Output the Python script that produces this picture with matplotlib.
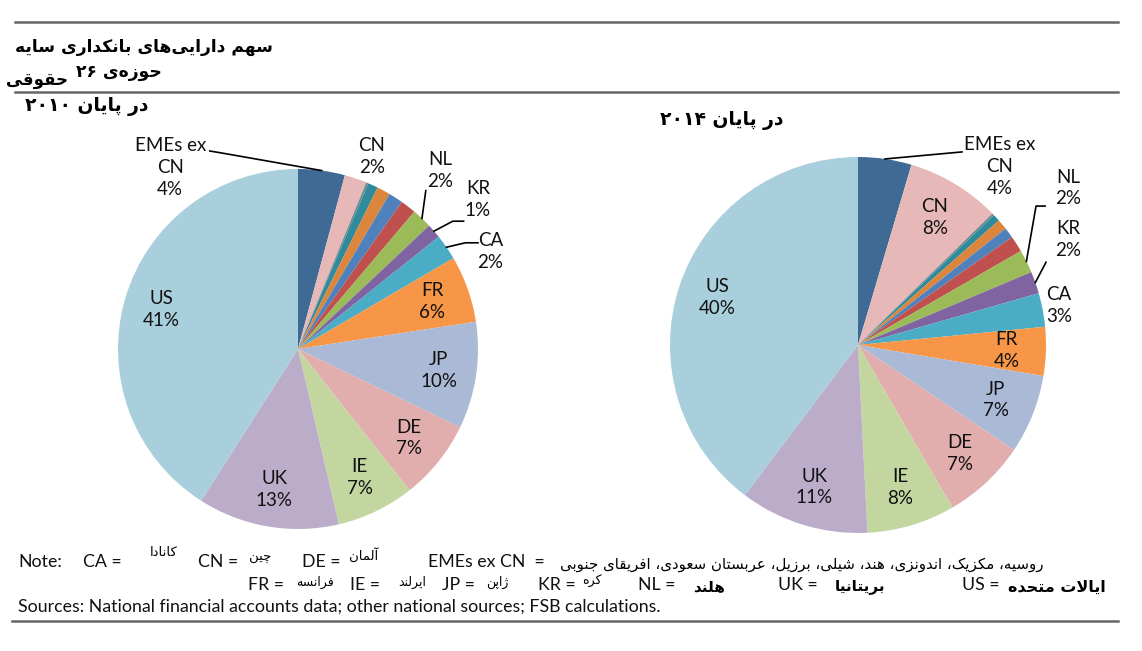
import re

import matplotlib
import matplotlib.pyplot as plt
import numpy as np
from matplotlib.lines import Line2D

matplotlib.use('Agg')

W, H = 1142, 651

# slice order, clockwise from 12 o'clock
labels = ['EMEs ex\nCN', 'CN', '', '', '', '', '', 'NL', 'KR', 'CA', 'FR', 'JP', 'DE', 'IE', 'UK', 'US']
shares_2010 = [4.2, 2.0, 0.2, 0.9, 1.2, 1.3, 1.4, 1.8, 1.3, 2.3, 6.0, 9.6, 7.2, 7.0, 12.7, 41.0]
shares_2014 = [4.6, 8.1, 0.2, 0.6, 0.9, 0.9, 1.4, 2.0, 1.9, 2.9, 4.2, 6.8, 7.2, 7.6, 11.1, 39.8]
pct_2010 = ['4%', '2%', '', '', '', '', '', '2%', '1%', '2%', '6%', '10%', '7%', '7%', '13%', '41%']
pct_2014 = ['4%', '8%', '', '', '', '', '', '2%', '2%', '3%', '4%', '7%', '7%', '8%', '11%', '40%']
colors = ['#3E6A95', '#E6B9B8', '#6E8C90', '#2F8A9C', '#DC853C', '#4F81BD', '#C0504D', '#9BBB59',
          '#8064A2', '#4BACC6', '#F79646', '#AAB9D5', '#E2AEAD', '#C3D69F', '#BBADC9', '#A8CFDB']

# Persian shaping (matplotlib does no Arabic shaping / bidi by itself)
FORMS = {
    'ا': '\uFE8D\uFE8E', 'آ': '\uFE81\uFE82', 'د': '\uFEA9\uFEAA', 'ذ': '\uFEAB\uFEAC',
    'ر': '\uFEAD\uFEAE', 'ز': '\uFEAF\uFEB0', 'ژ': '\uFB8A\uFB8B', 'و': '\uFEED\uFEEE',
    'ب': '\uFE8F\uFE90\uFE91\uFE92', 'پ': '\uFB56\uFB57\uFB58\uFB59',
    'ت': '\uFE95\uFE96\uFE97\uFE98', 'ج': '\uFE9D\uFE9E\uFE9F\uFEA0',
    'چ': '\uFB7A\uFB7B\uFB7C\uFB7D', 'ح': '\uFEA1\uFEA2\uFEA3\uFEA4',
    'س': '\uFEB1\uFEB2\uFEB3\uFEB4', 'ش': '\uFEB5\uFEB6\uFEB7\uFEB8',
    'ع': '\uFEC9\uFECA\uFECB\uFECC', 'ف': '\uFED1\uFED2\uFED3\uFED4',
    'ق': '\uFED5\uFED6\uFED7\uFED8', 'ک': '\uFB8E\uFB8F\uFB90\uFB91',
    'ل': '\uFEDD\uFEDE\uFEDF\uFEE0', 'م': '\uFEE1\uFEE2\uFEE3\uFEE4',
    'ن': '\uFEE5\uFEE6\uFEE7\uFEE8', 'ه': '\uFEE9\uFEEA\uFEEB\uFEEC',
    'ی': '\uFBFC\uFBFD\uFBFE\uFBFF',
}
LAM_ALEF = {'ا': '\uFEFB\uFEFC', 'آ': '\uFEF5\uFEF6'}


def fa(text):
    text = text.replace('\u064a', '\u06cc').replace('\u0643', '\u06a9')
    out = []
    i, n = 0, len(text)
    while i < n:
        c = text[i]
        if c not in FORMS:
            if c != '\u200c':
                out.append(c)
            i += 1
            continue
        prev = text[i - 1] if i > 0 else ''
        after_join = prev in FORMS and len(FORMS[prev]) == 4
        if c == 'ل' and i + 1 < n and text[i + 1] in LAM_ALEF:
            out.append(LAM_ALEF[text[i + 1]][1 if after_join else 0])
            i += 2
            continue
        nxt = text[i + 1] if i + 1 < n else ''
        f = FORMS[c]
        before_join = len(f) == 4 and nxt in FORMS
        if after_join and before_join:
            out.append(f[3])
        elif after_join:
            out.append(f[1])
        elif before_join:
            out.append(f[2])
        else:
            out.append(f[0])
        i += 1
    vis = ''.join(out)[::-1]
    return re.sub(r'[0-9\u06f0-\u06f9]+', lambda m: m.group(0)[::-1], vis)


LATIN = 'Lato'
PERSIAN = 'DejaVu Sans'

fig = plt.figure(figsize=(W / 100, H / 100), dpi=100)


def fx(x):
    return x / W


def fy(y):
    return 1 - y / H


def hline(y, x0, x1):
    fig.add_artist(Line2D([fx(x0), fx(x1)], [fy(y), fy(y)], color='#666666', lw=1.8))


def draw_pie(cx, cy, r, shares, pcts, callouts, inside_r):
    ax = fig.add_axes([(cx - r) / W, (H - cy - r) / H, 2 * r / W, 2 * r / H])
    wedges, _ = ax.pie(shares, colors=colors, startangle=90, counterclock=False,
                       wedgeprops=dict(linewidth=0))
    ax.set_xlim(-1, 1)
    ax.set_ylim(-1, 1)
    for w, lab, pct in zip(wedges, labels, pcts):
        if not pct:
            continue
        mid = np.deg2rad((w.theta1 + w.theta2) / 2)
        ex, ey = np.cos(mid), np.sin(mid)
        txt = f'{lab}\n{pct}'
        if lab in callouts:
            (tx, ty), elbow = callouts[lab]
            if elbow:
                pts = [(ex, ey)] + elbow
                ax.plot([p[0] for p in pts], [p[1] for p in pts], color='black', lw=1.2,
                        clip_on=False)
        else:
            tx, ty = inside_r * ex, inside_r * ey
        ax.text(tx, ty, txt, ha='center', va='center', fontsize=13.5, family=LATIN,
                linespacing=1.35, color='#111111')
    return ax


# label placement for the small slices (pie radius units)
callouts_2010 = {
    'EMEs ex\nCN': ((-0.71, 1.01), [(-0.43, 1.09), (-0.49, 1.10)]),
    'CN': ((0.41, 1.07), None),
    'NL': ((0.79, 0.99), [(0.71, 0.88)]),
    'KR': ((1.0, 0.83), [(0.86, 0.71), (0.92, 0.71)]),
    'CA': ((1.07, 0.54), [(0.93, 0.59), (1.0, 0.59)]),
}
callouts_2014 = {
    'EMEs ex\nCN': ((0.755, 0.95), [(0.553, 1.027)]),
    'NL': ((1.12, 0.835), [(0.947, 0.739), (0.995, 0.739)]),
    'KR': ((1.12, 0.56), [(1.0, 0.44)]),
    'CA': ((1.07, 0.21), None),
}

draw_pie(298, 349, 180, shares_2010, pct_2010, callouts_2010, 0.79)
draw_pie(858, 345, 188, shares_2014, pct_2014, callouts_2014, 0.79)

# header
hline(22, 15, 1118)
hline(92, 15, 1118)
hline(621, 12, 1118)
fig.text(fx(15), fy(47), fa('سهم دارایی\u200cهای بانکداری سایه'), family=PERSIAN,
         fontsize=12.3, fontweight='bold', ha='left', va='center')
fig.text(fx(162), fy(72), fa('حوزه\u200cی ۲۶'), family=PERSIAN,
         fontsize=12.3, fontweight='bold', ha='right', va='center')
fig.text(fx(6), fy(80), fa('حقوقی'), family=PERSIAN,
         fontsize=12, fontweight='bold', ha='left', va='center')
fig.text(fx(25), fy(106), fa('در پایان ۲۰۱۰'), family=PERSIAN,
         fontsize=13.5, fontweight='bold', ha='left', va='center')
fig.text(fx(660), fy(121), fa('در پایان ۲۰۱۴'), family=PERSIAN,
         fontsize=13.5, fontweight='bold', ha='left', va='center')

# notes
note_latin = [(18, 562, 'Note:'), (83, 562, 'CA ='), (198, 562, 'CN ='), (302, 562, 'DE ='),
              (428, 562, 'EMEs ex CN  ='),
              (248, 585, 'FR ='), (350, 585, 'IE ='), (442, 585, 'JP ='), (538, 585, 'KR ='),
              (638, 585, 'NL ='), (778, 585, 'UK ='), (962, 585, 'US =')]
for x, y, s in note_latin:
    fig.text(fx(x), fy(y), s, family=LATIN, fontsize=12.8, ha='left', va='center', color='#111111')

note_fa = [(150, 552, 'کانادا', 9.5, 'normal'), (249, 558, 'چین', 9.5, 'normal'),
           (349, 555, 'آلمان', 9.5, 'normal'),
           (296, 582, 'فرانسه', 9, 'normal'), (398, 582, 'ایرلند', 9, 'normal'),
           (486, 582, 'ژاپن', 9, 'normal'), (582, 582, 'کره', 9, 'normal'),
           (693, 587, 'هلند', 11, 'bold'), (835, 587, 'بریتانیا', 11, 'bold'),
           (1008, 587, 'ایالات متحده', 11.5, 'bold')]
for x, y, s, size, weight in note_fa:
    fig.text(fx(x), fy(y), fa(s), family=PERSIAN, fontsize=size, fontweight=weight,
             ha='left', va='center')
fig.text(fx(1044), fy(564),
         fa('روسیه، مکزیک، اندونزی، هند، شیلی، برزیل، عربستان سعودی، افریقای جنوبی'),
         family=PERSIAN, fontsize=10.8, ha='right', va='center')
fig.text(fx(18), fy(607), 'Sources: National financial accounts data; other national sources; FSB calculations.',
         family=LATIN, fontsize=12.8, ha='left', va='center', color='#111111')

fig.savefig('out.png', dpi=100)
